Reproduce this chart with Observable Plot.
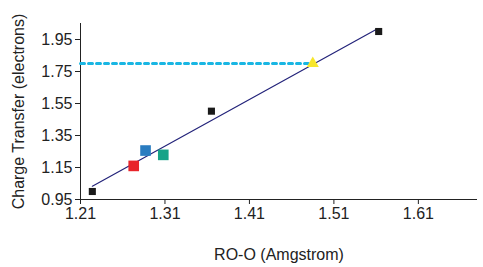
<!DOCTYPE html>
<html><head><meta charset="utf-8">
<script src="https://cdn.jsdelivr.net/npm/d3@7"></script>
<script src="https://cdn.jsdelivr.net/npm/@observablehq/plot@0.6"></script>
<style>body{margin:0;background:#fff}#c svg text{font-family:"Liberation Sans",Arial,sans-serif;font-size:16px}</style>
</head><body><div id="c"></div>
<script>
const xTicks = [1.21, 1.31, 1.41, 1.51, 1.61];
const yTicks = [0.95, 1.15, 1.35, 1.55, 1.75, 1.95];
const blackX = [1.224, 1.365, 1.563];
const blackY = [1.00, 1.502, 2.00];
const colorX = [1.273, 1.287, 1.308];
const colorY = [1.16, 1.256, 1.229];
const colorC = ["#e8242a", "#2a7cc0", "#16a388"];
const triX = [1.485];
const triY = [1.80];
const fitX = [1.224, 1.56];
const fitY = [1.033, 2.012];
const refY = 1.80;
const refX = [1.21, 1.485];

const black = blackX.map((x,i)=>({x, y: blackY[i]}));
const colored = colorX.map((x,i)=>({x, y: colorY[i], c: colorC[i]}));
const tri = triX.map((x,i)=>({x, y: triY[i]}));
const fit = fitX.map((x,i)=>({x, y: fitY[i]}));
const ref = refX.map(x=>({x, y: refY}));

const chart = Plot.plot({
  width: 483, height: 267,
  marginLeft: 80, marginTop: 23, marginBottom: 68, marginRight: 6,
  style: {fontFamily: "Liberation Sans, Arial, sans-serif", color: "#222", background: "#fff"},
  x: {domain: [1.21, 1.68]},
  y: {domain: [0.95, 2.05]},
  marks: [
    Plot.axisX({ticks: xTicks, tickFormat: d=>d.toFixed(2), tickSize: 5, tickPadding: 3, label: "RO-O (Amgstrom)", labelAnchor: "center", labelArrow: "none", labelOffset: 60}),
    Plot.axisY({ticks: yTicks, tickFormat: d=>d.toFixed(2), tickSize: 5, tickPadding: 3, label: "Charge Transfer (electrons)", labelAnchor: "center", labelArrow: "none", labelOffset: 68}),
    Plot.ruleX([1.21], {stroke: "#222"}),
    Plot.ruleY([0.95], {stroke: "#222"}),
    Plot.line(ref, {x: "x", y: "y", stroke: "#19b6e3", strokeWidth: 3, strokeDasharray: "4,4"}),
    Plot.line(fit, {x: "x", y: "y", stroke: "#23237a", strokeWidth: 1.2}),
    Plot.dot(black, {x: "x", y: "y", symbol: "square", r: 4, fill: "#1a1a1a"}),
    Plot.dot(colored, {x: "x", y: "y", symbol: "square", r: 6, fill: "c"}),
    Plot.dot(tri, {x: "x", y: "y", symbol: "triangle", r: 4.5, fill: "#f7e62c"})
  ]
});
document.getElementById("c").appendChild(chart);
</script></body></html>
